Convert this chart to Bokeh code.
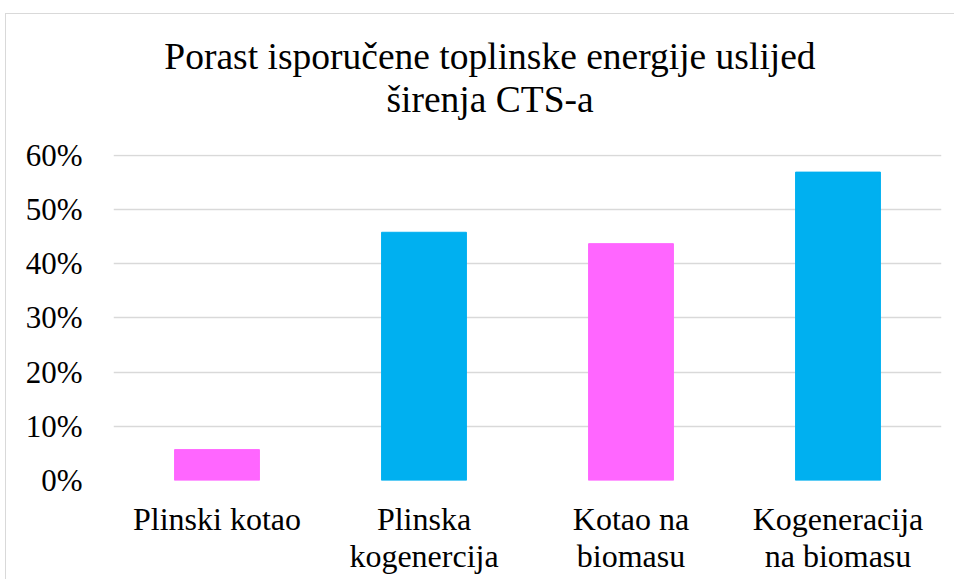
from bokeh.plotting import figure
from bokeh.models import ColumnDataSource, FixedTicker, NumeralTickFormatter, FactorRange, Range1d, CategoricalAxis, Div
from bokeh.layouts import column
from bokeh.embed import file_html
from bokeh.resources import INLINE

categories = ["Plinski kotao", "Plinska kogenercija", "Kotao na biomasu", "Kogeneracija na biomasu"]
label_line1 = ["Plinski kotao", "Plinska", "Kotao na", "Kogeneracija"]
label_line2 = [" ", "kogenercija", "biomasu", "na biomasu"]
values = [0.057, 0.458, 0.437, 0.569]
y_ticks = [0.0, 0.1, 0.2, 0.3, 0.4, 0.5, 0.6]
title_lines = ["Porast isporučene toplinske energije uslijed", "širenja CTS-a"]

bar_colors = ["#FF66FF", "#00B0F0", "#FF66FF", "#00B0F0"]

FONT = "Liberation Serif"

title_div = Div(
    text=('<div style="font-family:\'Liberation Serif\';font-size:37.5px;line-height:43px;'
          'color:#000;text-align:center;padding-top:21px;padding-left:40px;width:928px;'
          'box-sizing:border-box;">'
          + "<br>".join(title_lines) + "</div>"),
    width=948, height=108, margin=0)

src = ColumnDataSource(dict(cat=categories, val=values, color=bar_colors))

p = figure(width=948, height=457, output_backend="svg", toolbar_location=None,
           x_range=FactorRange(*categories, range_padding=0),
           y_range=Range1d(0, 0.6015),
           min_border_left=107, min_border_right=13, min_border_bottom=99, min_border_top=32)
p.margin = 0
p.extra_x_ranges = {"l1": FactorRange(*label_line1, range_padding=0),
                    "l2": FactorRange(*label_line2, range_padding=0)}

p.vbar(x="cat", top="val", width=0.41, color="color", source=src)

p.outline_line_color = None
p.xgrid.grid_line_color = None
p.ygrid.grid_line_color = "#d9d9d9"
p.ygrid.grid_line_width = 1.3

p.yaxis.ticker = FixedTicker(ticks=y_ticks)
p.yaxis.formatter = NumeralTickFormatter(format="0%")
p.yaxis.axis_line_color = None
p.yaxis.major_tick_line_color = None
p.yaxis.minor_tick_line_color = None
p.yaxis.major_tick_out = 0
p.yaxis.major_label_text_font = FONT
p.yaxis.major_label_text_font_size = "31px"
p.yaxis.major_label_text_color = "#000000"
p.yaxis.major_label_standoff = 31

p.xaxis[0].visible = False

def make_xaxis(range_name, standoff):
    ax = CategoricalAxis(x_range_name=range_name)
    ax.axis_line_color = None
    ax.major_tick_line_color = None
    ax.minor_tick_line_color = None
    ax.major_tick_out = 0
    ax.major_tick_in = 0
    ax.major_label_text_font = FONT
    ax.major_label_text_font_size = "32px"
    ax.major_label_text_color = "#000000"
    ax.major_label_standoff = standoff
    p.add_layout(ax, "below")

make_xaxis("l1", 20)
make_xaxis("l2", -2)

layout = column(title_div, p, spacing=0)
layout.margin = (13, 0, 0, 5)
layout.styles = {"border-top": "1px solid #d9d9d9", "border-left": "1px solid #d9d9d9"}

open("out.html", "w").write(file_html(layout, INLINE))
